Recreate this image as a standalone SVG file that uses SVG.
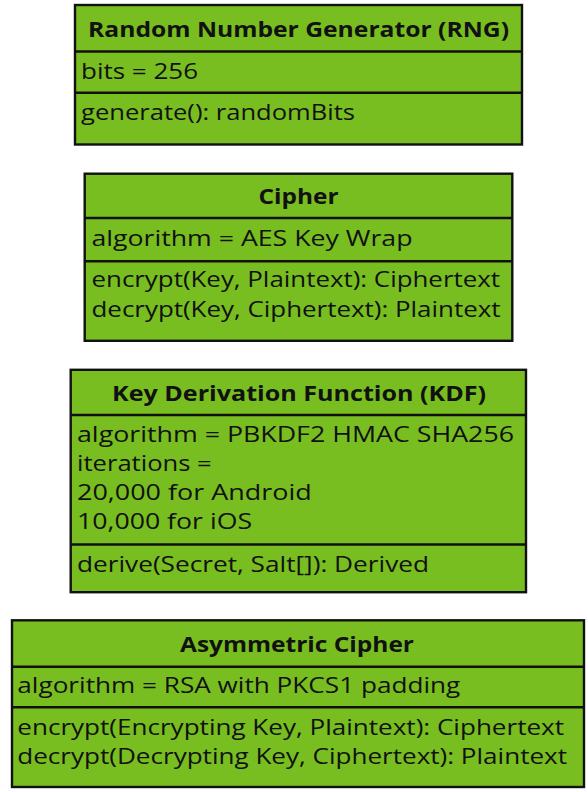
<svg xmlns="http://www.w3.org/2000/svg" width="588" height="792" viewBox="0 0 588 792">
<style>
.box{fill:#78be20;stroke:#111;stroke-width:2.4}
.div{stroke:#111;stroke-width:2.4}
.t{font-family:"Open Sans","Liberation Sans",sans-serif;font-size:22px;fill:#111}
.h{font-weight:bold;text-anchor:middle}
</style>
<rect width="588" height="792" fill="#fff"/>
<g id="rng">
<rect class="box" x="75" y="5" width="447" height="139.5"/>
<line class="div" x1="75" y1="51.5" x2="522" y2="51.5"/>
<line class="div" x1="75" y1="92.7" x2="522" y2="92.7"/>
<text class="t h" x="298.5" y="37" textLength="421" lengthAdjust="spacingAndGlyphs">Random Number Generator (RNG)</text>
<text class="t" x="81" y="79" textLength="117" lengthAdjust="spacingAndGlyphs">bits = 256</text>
<text class="t" x="81" y="120" textLength="274" lengthAdjust="spacingAndGlyphs">generate(): randomBits</text>
</g>
<g id="cipher">
<rect class="box" x="84.7" y="173.7" width="427.6" height="167.1"/>
<line class="div" x1="84.7" y1="218" x2="512.3" y2="218"/>
<line class="div" x1="84.7" y1="261.3" x2="512.3" y2="261.3"/>
<text class="t h" x="298.5" y="204" textLength="80" lengthAdjust="spacingAndGlyphs">Cipher</text>
<text class="t" x="91.5" y="246" textLength="321" lengthAdjust="spacingAndGlyphs">algorithm = AES Key Wrap</text>
<text class="t" x="91.5" y="287" textLength="408.5" lengthAdjust="spacingAndGlyphs">encrypt(Key, Plaintext): Ciphertext</text>
<text class="t" x="91.5" y="317" textLength="409" lengthAdjust="spacingAndGlyphs">decrypt(Key, Ciphertext): Plaintext</text>
</g>
<g id="kdf">
<rect class="box" x="70.7" y="369.8" width="455.3" height="222.4"/>
<line class="div" x1="70.7" y1="415" x2="526" y2="415"/>
<line class="div" x1="70.7" y1="544.5" x2="526" y2="544.5"/>
<text class="t h" x="299" y="401" textLength="374" lengthAdjust="spacingAndGlyphs">Key Derivation Function (KDF)</text>
<text class="t" x="77" y="442" textLength="437" lengthAdjust="spacingAndGlyphs">algorithm = PBKDF2 HMAC SHA256</text>
<text class="t" x="77" y="471" textLength="134.7" lengthAdjust="spacingAndGlyphs">iterations =</text>
<text class="t" x="77" y="500" textLength="234.7" lengthAdjust="spacingAndGlyphs">20,000 for Android</text>
<text class="t" x="77" y="529" textLength="175" lengthAdjust="spacingAndGlyphs">10,000 for iOS</text>
<text class="t" x="77" y="572" textLength="352" lengthAdjust="spacingAndGlyphs">derive(Secret, Salt[]): Derived</text>
</g>
<g id="asym">
<rect class="box" x="12" y="620.3" width="572" height="166.7"/>
<line class="div" x1="12" y1="666.8" x2="584" y2="666.8"/>
<line class="div" x1="12" y1="707.3" x2="584" y2="707.3"/>
<text class="t h" x="297" y="652" textLength="234" lengthAdjust="spacingAndGlyphs">Asymmetric Cipher</text>
<text class="t" x="17.3" y="693" textLength="443" lengthAdjust="spacingAndGlyphs">algorithm = RSA with PKCS1 padding</text>
<text class="t" x="17.3" y="735" textLength="546.7" lengthAdjust="spacingAndGlyphs">encrypt(Encrypting Key, Plaintext): Ciphertext</text>
<text class="t" x="17.3" y="764" textLength="549.7" lengthAdjust="spacingAndGlyphs">decrypt(Decrypting Key, Ciphertext): Plaintext</text>
</g>
<g id="connectors"/>
</svg>
